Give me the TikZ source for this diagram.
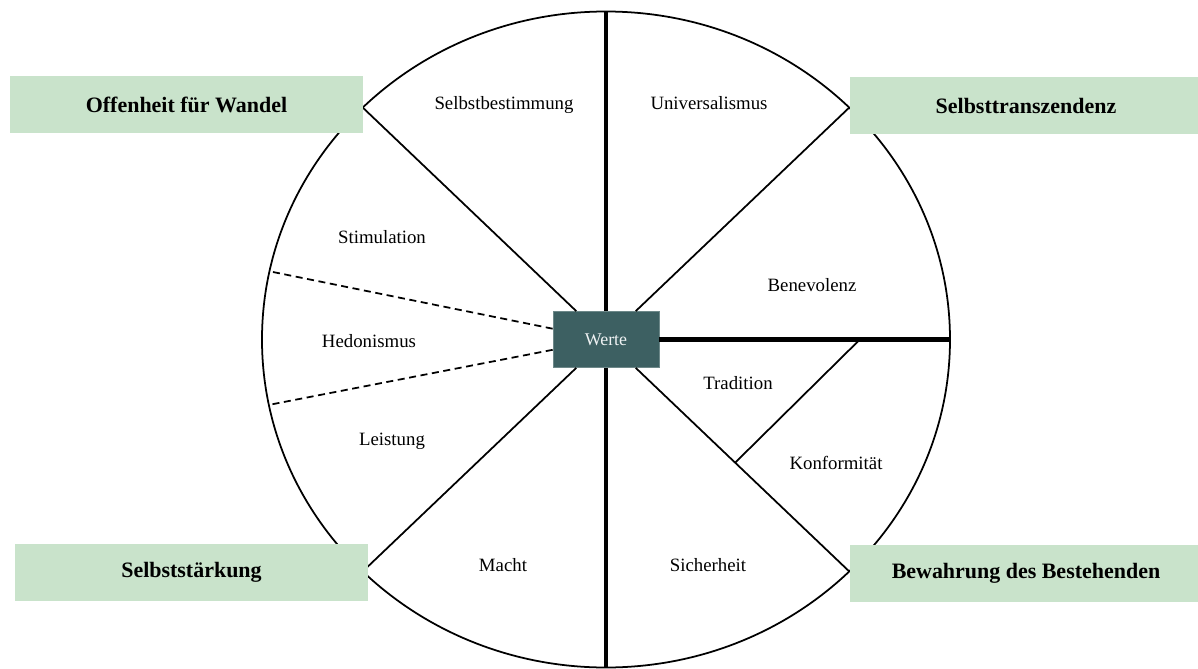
\documentclass[tikz,border=0pt]{standalone}
\usepackage{fontspec}
\setmainfont{Liberation Serif}
\usetikzlibrary{positioning}
\usetikzlibrary{calc}
\definecolor{groupgreen}{RGB}{201,227,203}
\definecolor{wertegreen}{RGB}{61,96,98}
\def\radiusX{6.88}
\def\radiusY{6.56}

\begin{document}
\begin{tikzpicture}[
        segment/.style={font=\fontsize{10.7}{12}\selectfont},
        group/.style={fill=groupgreen, inner sep=0pt, minimum width=7.06cm,
            minimum height=1.14cm, font=\fontsize{12.5}{14}\selectfont\bfseries},
        core/.style={fill=wertegreen, draw=wertegreen!75!white, line width=0.4pt,
            minimum width=2.12cm, minimum height=1.12cm,
            text=white!92!wertegreen, font=\fontsize{10.2}{12}\selectfont},
        thinline/.style={line width=1pt},
        thickline/.style={line width=2.3pt},
        dashline/.style={line width=1pt, dash pattern=on 4pt off 2.6pt}
    ]
        \useasboundingbox (-12.12,-6.57) rectangle (11.84,6.79);

        \node[core] (werte) at (0,0) {Werte};

        % points on the rim
        \foreach \ang/\name in {0/e, 45/ne, 90/n, 135/nw, 225/sw, 270/s, 315/se,
                                168/hedtop, 191.5/hedbot}
            \coordinate (rim-\name) at ({\radiusX*cos(\ang)}, {\radiusY*sin(\ang)});

        \draw[thinline] (0,0) ellipse ({\radiusX} and {\radiusY});

        \draw[thickline] (werte) -- (rim-n);
        \draw[thickline] (werte) -- (rim-s);
        \draw[thickline] (werte) -- (rim-e);

        \draw[thinline] (werte) -- (rim-ne);
        \draw[thinline] (werte) -- (rim-nw);
        \draw[thinline] (werte) -- (rim-sw);
        \draw[thinline] (werte) -- (rim-se);

        \draw[dashline] (werte) -- (rim-hedtop);
        \draw[dashline] (werte) -- (rim-hedbot);

        % Tradition / Konformitaet split
        \coordinate (split-top) at ($(0,0)!0.738!(rim-e)$);
        \coordinate (split-bot) at ($(0,0)!0.531!(rim-se)$);
        \draw[thinline] (split-top) -- (split-bot);

        \node[segment] (selbstbestimmung) at (-2.04,4.69) {Selbstbestimmung};
        \node[segment] (universalismus) at (2.06,4.73) {Universalismus};
        \node[segment] (stimulation) at (-4.48,2.05) {Stimulation};
        \node[segment] (hedonismus) at (-4.74,-0.03) {Hedonismus};
        \node[segment] (leistung) at (-4.28,-2.03) {Leistung};
        \node[segment] (macht) at (-2.06,-4.51) {Macht};
        \node[segment] (sicherheit) at (2.04,-4.51) {Sicherheit};
        \node[segment] (benevolenz) at (4.12,1.09) {Benevolenz};
        \node[segment] (tradition) at (2.64,-0.87) {Tradition};
        \node[segment] (konformitaet) at (4.60,-2.47) {Konformität};

        \node[group] (wandel) at (-8.39,4.70) {Offenheit für Wandel};
        \node[group] (transzendenz) at (8.40,4.68) {Selbsttranszendenz};
        \node[group] (staerkung) at (-8.29,-4.66) {Selbststärkung};
        \node[group] (bewahrung) at (8.40,-4.67) {Bewahrung des Bestehenden};
    \end{tikzpicture}
\end{document}
